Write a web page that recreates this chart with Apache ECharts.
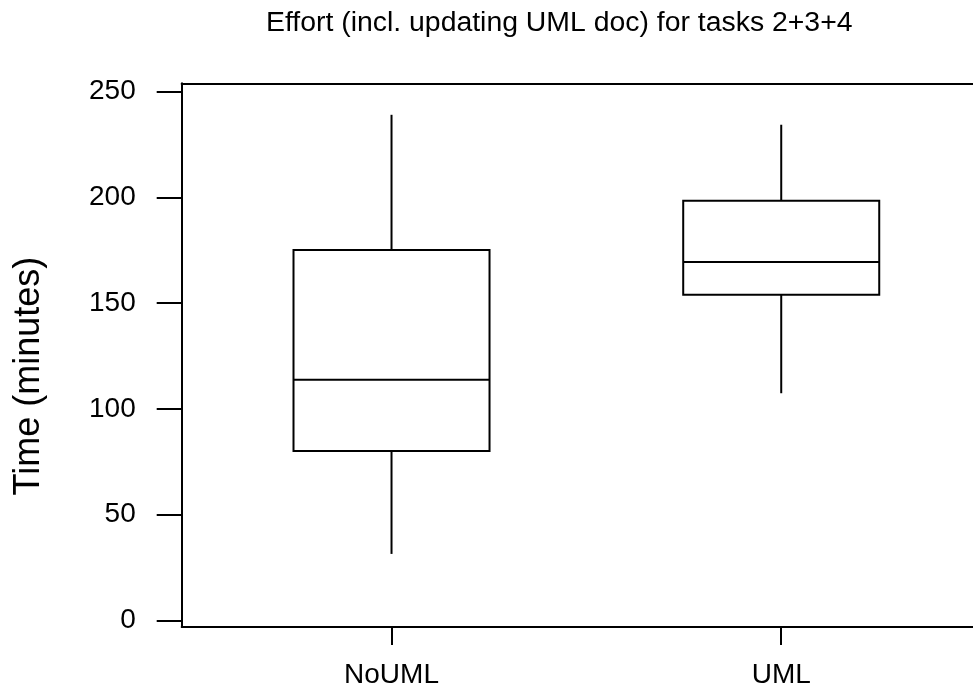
<!DOCTYPE html>
<html>
<head>
<meta charset="utf-8">
<script src="https://cdn.jsdelivr.net/npm/echarts@6/dist/echarts.min.js"></script>
<style>
html,body{margin:0;padding:0;background:#fff;}
#chart{width:973px;height:689px;}
</style>
</head>
<body>
<div id="chart"></div>
<script>
// Data
const categories = ['NoUML', 'UML'];
// [min, Q1, median, Q3, max]
const noUmlStats = [31.4, 80.1, 113.8, 175.1, 239.1];
const umlStats = [107.4, 154.0, 169.5, 198.4, 234.4];
const yTickValues = [0, 50, 100, 150, 200, 250];

const seriesData = [
  [1].concat(noUmlStats),
  [2].concat(umlStats)
];

const FONT = '"Liberation Sans", Arial, Helvetica, sans-serif';
const BOX_W = 0.503; // box width in x-axis units
const X_MIN = 0.4616, X_MAX = 2.4921;

const chart = echarts.init(document.getElementById('chart'), null, {renderer: 'canvas'});

chart.setOption({
  animation: false,
  backgroundColor: '#ffffff',
  title: {
    text: 'Effort (incl. updating UML doc) for tasks 2+3+4',
    left: 266,
    top: 9,
    padding: 0,
    textStyle: {fontFamily: FONT, fontSize: 28.4, fontWeight: 'normal', color: '#000', lineHeight: 28}
  },
  grid: {
    left: 181.7,
    top: 83.3,
    bottom: 62,
    right: 0,
    show: false
  },
  xAxis: [{
    type: 'value',
    position: 'bottom',
    min: X_MIN,
    max: X_MAX,
    splitLine: {show: false},
    axisLine: {show: true, onZero: false, lineStyle: {color: '#000', width: 2}},
    axisTick: {show: true, customValues: [1, 2], length: 18, lineStyle: {color: '#000', width: 2}},
    axisLabel: {
      customValues: [1, 2],
      formatter: function (v) { return categories[Math.round(v) - 1] || ''; },
      margin: 34,
      fontFamily: FONT, fontSize: 28, color: '#000', lineHeight: 28
    }
  }, {
    type: 'value',
    position: 'top',
    min: X_MIN,
    max: X_MAX,
    splitLine: {show: false},
    axisLine: {show: true, onZero: false, lineStyle: {color: '#000', width: 2}},
    axisTick: {show: false},
    axisLabel: {show: false}
  }],
  yAxis: {
    type: 'value',
    min: -3.17,
    max: 254,
    name: 'Time (minutes)',
    nameLocation: 'middle',
    nameGap: 135,
    nameTextStyle: {fontFamily: FONT, fontSize: 36, color: '#000', lineHeight: 36, padding: [0, 42, 0, 0]},
    splitLine: {show: false},
    axisLine: {show: true, onZero: false, lineStyle: {color: '#000', width: 2}},
    axisTick: {show: true, customValues: yTickValues, length: 25, lineStyle: {color: '#000', width: 2}},
    axisLabel: {
      customValues: yTickValues,
      margin: 46,
      fontFamily: FONT, fontSize: 28, color: '#000'
    }
  },
  series: [{
    type: 'custom',
    xAxisIndex: 0,
    data: seriesData,
    encode: {x: 0, y: [1, 2, 3, 4, 5]},
    renderItem: function (params, api) {
      const x = api.value(0);
      const mn = api.value(1), q1 = api.value(2), md = api.value(3), q3 = api.value(4), mx = api.value(5);
      const pMin = api.coord([x, mn]);
      const pQ1 = api.coord([x, q1]);
      const pMd = api.coord([x, md]);
      const pQ3 = api.coord([x, q3]);
      const pMax = api.coord([x, mx]);
      const w = api.size([BOX_W, 0])[0];
      const left = pMd[0] - w / 2;
      const st = {stroke: '#000', lineWidth: 2, fill: null};
      return {
        type: 'group',
        children: [
          {type: 'rect', shape: {x: left, y: pQ3[1], width: w, height: pQ1[1] - pQ3[1]}, style: {stroke: '#000', lineWidth: 2, fill: 'none'}},
          {type: 'line', shape: {x1: left, y1: pMd[1], x2: left + w, y2: pMd[1]}, style: st},
          {type: 'line', shape: {x1: pMax[0], y1: pMax[1], x2: pQ3[0], y2: pQ3[1]}, style: st},
          {type: 'line', shape: {x1: pQ1[0], y1: pQ1[1], x2: pMin[0], y2: pMin[1]}, style: st}
        ]
      };
    }
  }]
});
</script>
</body>
</html>
